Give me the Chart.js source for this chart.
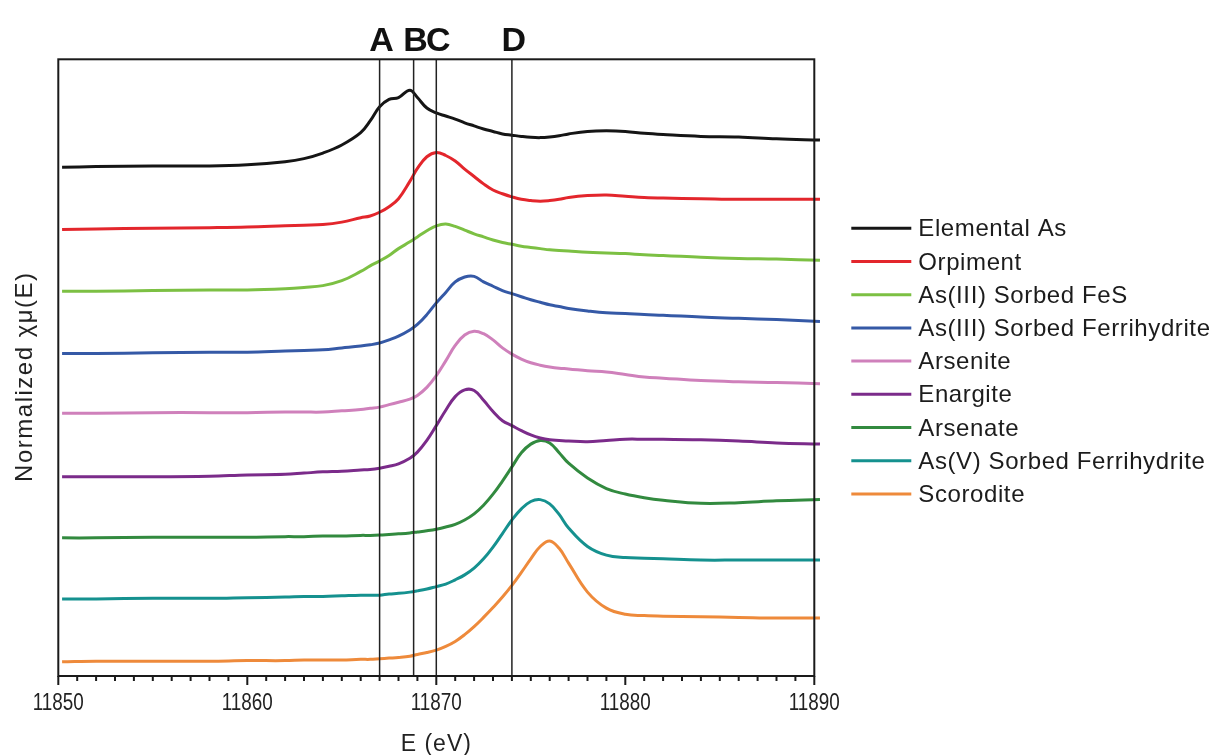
<!DOCTYPE html>
<html>
<head>
<meta charset="utf-8">
<title>As K-edge XANES standards</title>
<script src="https://cdn.jsdelivr.net/npm/chart.js@4.4.1/dist/chart.umd.min.js"></script>
<style>
  html, body { margin: 0; padding: 0; background: #fff; }
  .chart-wrap { position: relative; width: 1220px; height: 755px; }
</style>
</head>
<body>
<div class="chart-wrap"><canvas id="xanesChart"></canvas></div>
<script>
// Energy grid (eV) shared by all spectra
const energies = [11850.2, 11852, 11855, 11858, 11860, 11862, 11863, 11864, 11865, 11866,
  11866.5, 11867, 11867.5, 11868, 11868.6, 11869, 11869.5, 11870, 11870.5, 11871,
  11871.5, 11872, 11872.5, 11873, 11873.5, 11874, 11874.5, 11875, 11875.5, 11876,
  11876.5, 11877, 11878, 11879, 11880, 11881, 11882, 11884, 11886, 11888, 11890.3];

// Normalized spectra, stacked (offset) as in the figure
const elementalAs = [8.25, 8.26, 8.27, 8.27, 8.29, 8.34, 8.39, 8.48, 8.61, 8.81,
  9.00, 9.23, 9.35, 9.38, 9.50, 9.38, 9.21, 9.13, 9.08, 9.03,
  8.97, 8.92, 8.87, 8.83, 8.79, 8.77, 8.75, 8.735, 8.73, 8.74,
  8.76, 8.79, 8.83, 8.84, 8.83, 8.80, 8.78, 8.75, 8.74, 8.71, 8.69];
const orpiment = [7.24, 7.25, 7.26, 7.27, 7.28, 7.30, 7.31, 7.32, 7.36, 7.43,
  7.46, 7.52, 7.61, 7.74, 8.02, 8.23, 8.42, 8.49, 8.44, 8.35,
  8.22, 8.10, 7.98, 7.88, 7.82, 7.77, 7.73, 7.71, 7.70, 7.71,
  7.73, 7.76, 7.79, 7.80, 7.78, 7.76, 7.75, 7.74, 7.73, 7.73, 7.73];
const asIIIFeS = [6.24, 6.24, 6.25, 6.26, 6.26, 6.28, 6.30, 6.33, 6.41, 6.56,
  6.65, 6.73, 6.82, 6.93, 7.04, 7.12, 7.22, 7.30, 7.33, 7.29,
  7.23, 7.17, 7.12, 7.07, 7.03, 7.00, 6.97, 6.95, 6.93, 6.91,
  6.90, 6.89, 6.87, 6.86, 6.85, 6.83, 6.82, 6.79, 6.77, 6.76, 6.74];
const asIIIFerrihydrite = [5.23, 5.23, 5.24, 5.25, 5.25, 5.27, 5.28, 5.29, 5.32, 5.35,
  5.37, 5.40, 5.45, 5.51, 5.61, 5.70, 5.86, 6.05, 6.22, 6.39,
  6.47, 6.48, 6.39, 6.32, 6.25, 6.20, 6.15, 6.10, 6.06, 6.02,
  5.99, 5.96, 5.92, 5.89, 5.88, 5.86, 5.85, 5.82, 5.80, 5.78, 5.75];
const arsenite = [4.26, 4.26, 4.27, 4.27, 4.27, 4.28, 4.28, 4.28, 4.30, 4.32,
  4.34, 4.36, 4.40, 4.44, 4.49, 4.55, 4.68, 4.87, 5.11, 5.36,
  5.53, 5.59, 5.55, 5.45, 5.32, 5.22, 5.14, 5.08, 5.04, 5.01,
  4.99, 4.98, 4.95, 4.93, 4.89, 4.85, 4.83, 4.79, 4.77, 4.76, 4.74];
const enargite = [3.23, 3.23, 3.23, 3.24, 3.26, 3.27, 3.29, 3.31, 3.32, 3.34,
  3.35, 3.37, 3.40, 3.44, 3.53, 3.63, 3.82, 4.06, 4.31, 4.53,
  4.64, 4.63, 4.47, 4.29, 4.14, 4.06, 3.98, 3.91, 3.86, 3.83,
  3.82, 3.81, 3.80, 3.82, 3.84, 3.84, 3.84, 3.83, 3.81, 3.78, 3.76];
const arsenate = [2.24, 2.24, 2.25, 2.25, 2.25, 2.26, 2.26, 2.27, 2.27, 2.28,
  2.28, 2.285, 2.295, 2.305, 2.32, 2.335, 2.355, 2.38, 2.415, 2.46,
  2.53, 2.63, 2.77, 2.95, 3.16, 3.39, 3.62, 3.76, 3.82, 3.78,
  3.62, 3.45, 3.21, 3.04, 2.95, 2.89, 2.85, 2.80, 2.81, 2.84, 2.86];
const asVFerrihydrite = [1.25, 1.25, 1.26, 1.26, 1.27, 1.28, 1.29, 1.29, 1.30, 1.31,
  1.31, 1.31, 1.33, 1.34, 1.36, 1.38, 1.41, 1.45, 1.49, 1.56,
  1.64, 1.75, 1.90, 2.09, 2.31, 2.53, 2.71, 2.83, 2.86, 2.79,
  2.62, 2.40, 2.10, 1.96, 1.92, 1.91, 1.90, 1.88, 1.88, 1.88, 1.88];
const scorodite = [0.23, 0.24, 0.24, 0.24, 0.25, 0.25, 0.26, 0.26, 0.26, 0.27,
  0.27, 0.28, 0.29, 0.30, 0.32, 0.35, 0.38, 0.42, 0.48, 0.56,
  0.67, 0.80, 0.95, 1.11, 1.28, 1.47, 1.68, 1.90, 2.10, 2.19,
  2.07, 1.83, 1.36, 1.10, 1.00, 0.98, 0.97, 0.96, 0.95, 0.94, 0.94];

const seriesNames = ['Elemental As', 'Orpiment', 'As(III) Sorbed FeS', 'As(III) Sorbed Ferrihydrite',
  'Arsenite', 'Enargite', 'Arsenate', 'As(V) Sorbed Ferrihydrite', 'Scorodite'];
const seriesValues = [elementalAs, orpiment, asIIIFeS, asIIIFerrihydrite,
  arsenite, enargite, arsenate, asVFerrihydrite, scorodite];
const seriesColors = ['#151515', '#e3262c', '#7cc043', '#3559a6',
  '#cf80bb', '#7b2b8a', '#328a3f', '#15918f', '#ee8a3b'];

// Feature markers (eV) and x axis labels
const featureLines = [11867, 11868.8, 11870, 11874];
const featureLabels = ['A', 'B', 'C', 'D'];
const xTickLabels = [11850, 11860, 11870, 11880, 11890];

const FONT = '"Liberation Sans", Arial, sans-serif';

document.addEventListener('DOMContentLoaded', function() {
  // Frame, ticks, feature lines, titles and legend
  const decorPlugin = {
    id: 'decor',
    afterDatasetsDraw(chart) {
      const { ctx, chartArea } = chart;
      const xScale = chart.scales.x;
      ctx.save();

      // vertical feature lines
      ctx.strokeStyle = '#222';
      ctx.lineWidth = 1.5;
      featureLines.forEach(function(e) {
        const px = xScale.getPixelForValue(e);
        ctx.beginPath();
        ctx.moveTo(px, chartArea.top);
        ctx.lineTo(px, chartArea.bottom);
        ctx.stroke();
      });

      // plot frame
      ctx.strokeStyle = '#1a1a1a';
      ctx.lineWidth = 2;
      ctx.strokeRect(chartArea.left, chartArea.top,
        chartArea.right - chartArea.left, chartArea.bottom - chartArea.top);

      // major / minor ticks, pointing out
      xScale.ticks.forEach(function(t) {
        const px = xScale.getPixelForValue(t.value);
        const len = xTickLabels.includes(t.value) ? 9 : 5;
        ctx.beginPath();
        ctx.moveTo(px, chartArea.bottom);
        ctx.lineTo(px, chartArea.bottom + len);
        ctx.stroke();
      });

      // tick labels, in a condensed face like the original
      ctx.fillStyle = '#222';
      ctx.font = '23px ' + FONT;
      ctx.textAlign = 'center';
      ctx.textBaseline = 'alphabetic';
      xTickLabels.forEach(function(v) {
        ctx.save();
        ctx.translate(xScale.getPixelForValue(v), chartArea.bottom + 34);
        ctx.scale(0.82, 1);
        ctx.fillText(String(v), 0, 0);
        ctx.restore();
      });

      // feature letters
      ctx.fillStyle = '#111';
      ctx.font = 'bold 34px ' + FONT;
      featureLines.forEach(function(e, i) {
        ctx.fillText(featureLabels[i], xScale.getPixelForValue(e) + 2, chartArea.top - 8);
      });

      // axis titles
      ctx.fillStyle = '#222';
      ctx.font = '23px ' + FONT;
      ctx.letterSpacing = '1px';
      ctx.fillText('E (eV)', (chartArea.left + chartArea.right) / 2, chartArea.bottom + 75);

      ctx.save();
      ctx.translate(31.5, (chartArea.top + chartArea.bottom) / 2 + 9);
      ctx.rotate(-Math.PI / 2);
      ctx.font = '24px ' + FONT;
      ctx.letterSpacing = '1.5px';
      ctx.fillText('Normalized \u03c7\u03bc(E)', 0, 0);
      ctx.restore();

      // legend
      ctx.font = '24px ' + FONT;
      ctx.letterSpacing = '0.6px';
      ctx.textAlign = 'left';
      ctx.textBaseline = 'middle';
      ctx.lineWidth = 3;
      chart.data.datasets.forEach(function(ds, i) {
        const y = chartArea.top + 169 + i * 33.2;
        ctx.strokeStyle = ds.borderColor;
        ctx.beginPath();
        ctx.moveTo(chartArea.right + 37, y);
        ctx.lineTo(chartArea.right + 97, y);
        ctx.stroke();
        ctx.fillStyle = '#1c1c1c';
        ctx.fillText(ds.label, chartArea.right + 104, y + 1.5);
      });

      ctx.restore();
    }
  };

  const datasets = seriesNames.map(function(name, i) {
    return {
      label: name,
      data: energies.map(function(e, j) { return { x: e, y: seriesValues[i][j] }; }),
      borderColor: seriesColors[i],
      borderWidth: 3,
      pointRadius: 0,
      fill: false,
      clip: false,
      tension: 0.4
    };
  });

  const ctx = document.getElementById('xanesChart').getContext('2d');
  new Chart(ctx, {
    type: 'line',
    data: { datasets: datasets },
    plugins: [decorPlugin],
    options: {
      responsive: true,
      maintainAspectRatio: false,
      animation: false,
      layout: {
        padding: { left: 58.3, right: 405.7, top: 59.3, bottom: 0 }
      },
      plugins: {
        legend: { display: false },
        tooltip: { enabled: false }
      },
      scales: {
        x: {
          type: 'linear',
          min: 11850,
          max: 11890,
          afterFit: function(scale) { scale.height = 79; },
          border: { display: false },
          grid: {
            drawOnChartArea: false,
            drawTicks: false
          },
          ticks: {
            display: false,
            stepSize: 1,
            autoSkip: false
          }
        },
        y: {
          display: false,
          min: 0,
          max: 10
        }
      }
    }
  });
});
</script>
</body>
</html>
